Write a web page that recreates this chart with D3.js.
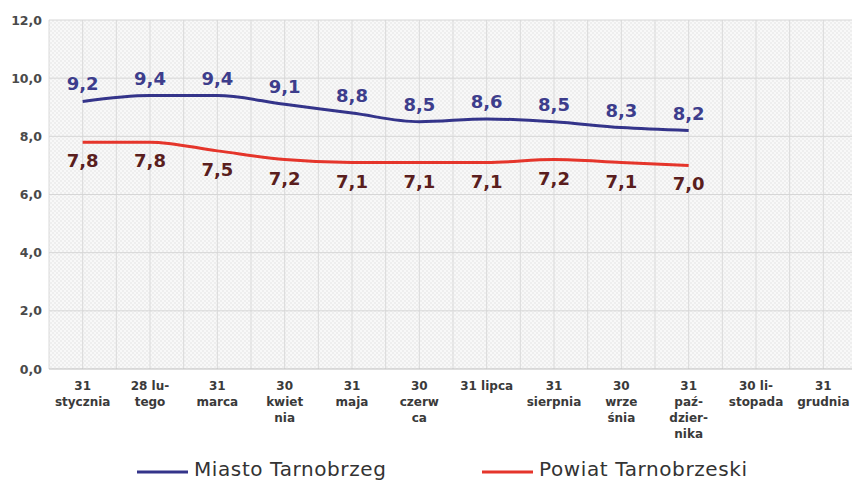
<!DOCTYPE html>
<html>
<head>
<meta charset="utf-8">
<script src="https://cdnjs.cloudflare.com/ajax/libs/d3/7.8.5/d3.min.js"></script>
<style>
body { margin: 0; background: #fff; }
svg { display: block; }
</style>
</head>
<body>
<svg width="852" height="480"></svg>
<script>
var categories = ["31 stycznia", "28 lutego", "31 marca", "30 kwietnia", "31 maja", "30 czerwca",
	"31 lipca", "31 sierpnia", "30 września", "31 października", "30 listopada", "31 grudnia"];
var categoryLines = [["31", "stycznia"], ["28 lu-", "tego"], ["31", "marca"], ["30", "kwiet", "nia"],
	["31", "maja"], ["30", "czerw", "ca"], ["31 lipca"], ["31", "sierpnia"], ["30", "wrze", "śnia"],
	["31", "paź-", "dzier-", "nika"], ["30 li-", "stopada"], ["31", "grudnia"]];
var miasto = [9.2, 9.4, 9.4, 9.1, 8.8, 8.5, 8.6, 8.5, 8.3, 8.2];
var powiat = [7.8, 7.8, 7.5, 7.2, 7.1, 7.1, 7.1, 7.2, 7.1, 7.0];
var yTicks = [0, 2, 4, 6, 8, 10, 12];
var seriesNames = ["Miasto Tarnobrzeg", "Powiat Tarnobrzeski"];

var svg = d3.select("svg");
var plotLeft = 49, plotRight = 857, plotTop = 20, plotBottom = 369;

var x = d3.scaleBand().domain(categories).range([plotLeft, plotRight]);
var y = d3.scaleLinear().domain([0, 12]).range([plotBottom, plotTop]);
var cx = function(i) { return x(categories[i]) + x.bandwidth() / 2; };
var fmt = function(d) { return d3.format(".1f")(d).replace(".", ","); };

// checker background
var defs = svg.append("defs");
var pat = defs.append("pattern").attr("id", "chk")
	.attr("width", 4).attr("height", 4).attr("patternUnits", "userSpaceOnUse");
pat.append("rect").attr("width", 4).attr("height", 4).attr("fill", "#f8f8f8");
pat.append("rect").attr("width", 2).attr("height", 2).attr("fill", "#eeeeee");
pat.append("rect").attr("x", 2).attr("y", 2).attr("width", 2).attr("height", 2).attr("fill", "#eeeeee");

svg.append("rect")
	.attr("x", plotLeft).attr("y", plotTop)
	.attr("width", plotRight - plotLeft).attr("height", plotBottom - plotTop)
	.attr("fill", "url(#chk)");

// grid
var vgrid = [];
categories.forEach(function(c) { vgrid.push(x(c)); vgrid.push(x(c) + x.bandwidth() / 2); });
svg.append("g").selectAll("line").data(vgrid).enter().append("line")
	.attr("x1", function(d) { return d; }).attr("x2", function(d) { return d; })
	.attr("y1", plotTop).attr("y2", plotBottom)
	.attr("stroke", "#dadada").attr("stroke-width", 1);

svg.append("g").selectAll("line").data(yTicks).enter().append("line")
	.attr("x1", plotLeft).attr("x2", plotRight)
	.attr("y1", function(d) { return y(d); }).attr("y2", function(d) { return y(d); })
	.attr("stroke", function(d) { return d == 0 ? "#bdbdbd" : "#d6d6d6"; })
	.attr("stroke-width", 1);

// y axis labels
var yAxis = d3.axisLeft(y).tickValues(yTicks).tickSize(0).tickPadding(7).tickFormat(fmt);
var ya = svg.append("g").attr("transform", "translate(" + plotLeft + ",0)").call(yAxis);
ya.select(".domain").remove();
ya.selectAll("text")
	.attr("font-family", "'DejaVu Sans', sans-serif").attr("font-size", 12.5).attr("font-weight", "bold")
	.attr("fill", "#4a4a4a");

// x labels
var xl = svg.append("g").selectAll("text").data(categoryLines).enter().append("text")
	.attr("x", function(d, i) { return cx(i); })
	.attr("y", 390)
	.attr("text-anchor", "middle")
	.attr("font-family", "'DejaVu Sans', sans-serif").attr("font-size", 12).attr("font-weight", "bold")
	.attr("fill", "#3a3a3a");
xl.selectAll("tspan").data(function(d) { return d; }).enter().append("tspan")
	.attr("x", function() { return d3.select(this.parentNode).attr("x"); })
	.attr("dy", function(d, i) { return i == 0 ? 0 : 16; })
	.text(function(d) { return d; });

// lines
var line = d3.line()
	.x(function(d, i) { return cx(i); })
	.y(function(d) { return y(d); })
	.curve(d3.curveMonotoneX);

svg.append("path").datum(miasto).attr("d", line)
	.attr("fill", "none").attr("stroke", "#34348a").attr("stroke-width", 3);
svg.append("path").datum(powiat).attr("d", line)
	.attr("fill", "none").attr("stroke", "#e5352b").attr("stroke-width", 3);

// data labels
svg.append("g").selectAll("text").data(miasto).enter().append("text")
	.attr("x", function(d, i) { return cx(i); })
	.attr("y", function(d) { return y(d) - 11; })
	.attr("text-anchor", "middle")
	.attr("font-family", "'DejaVu Sans', sans-serif").attr("font-size", 18).attr("font-weight", "bold")
	.attr("fill", "#3d3d8c")
	.text(fmt);
svg.append("g").selectAll("text").data(powiat).enter().append("text")
	.attr("x", function(d, i) { return cx(i); })
	.attr("y", function(d) { return y(d) + 25; })
	.attr("text-anchor", "middle")
	.attr("font-family", "'DejaVu Sans', sans-serif").attr("font-size", 18).attr("font-weight", "bold")
	.attr("fill", "#5a1e1e")
	.text(fmt);

// legend
var legendColors = ["#34348a", "#e5352b"];
var legendX = [137, 482];
var lg = svg.append("g").selectAll("g").data(seriesNames).enter().append("g")
	.attr("transform", function(d, i) { return "translate(" + legendX[i] + ",472)"; });
lg.append("line").attr("x1", 0).attr("x2", 51).attr("y1", 0).attr("y2", 0)
	.attr("stroke", function(d, i) { return legendColors[i]; }).attr("stroke-width", 3);
lg.append("text").attr("x", 57).attr("y", 4)
	.attr("font-family", "'DejaVu Sans', sans-serif").attr("font-size", 20)
	.attr("letter-spacing", 0.6)
	.attr("fill", "#333")
	.text(function(d) { return d; });
</script>
</body>
</html>
